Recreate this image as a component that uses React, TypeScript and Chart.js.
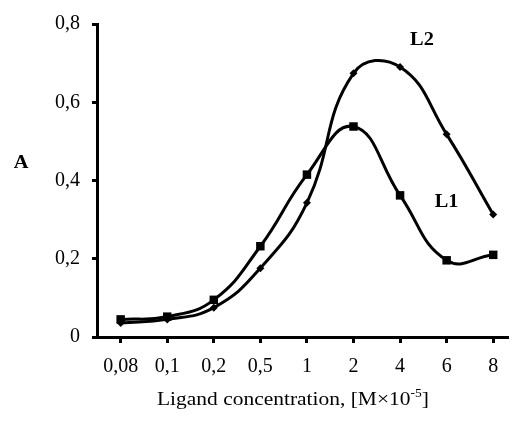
import React, { useEffect, useRef } from "react";
import { Chart, registerables } from "chart.js";

Chart.register(...registerables);

const categories = ["0,08", "0,1", "0,2", "0,5", "1", "2", "4", "6", "8"];
const seriesL1 = [0.045, 0.052, 0.095, 0.232, 0.415, 0.538, 0.362, 0.196, 0.21];
const seriesL2 = [0.036, 0.045, 0.075, 0.176, 0.343, 0.674, 0.69, 0.518, 0.313];
const yTicks = [0, 0.2, 0.4, 0.6, 0.8];
const yTickLabels = ["0", "0,2", "0,4", "0,6", "0,8"];
const xTitleMain = "Ligand concentration, [M×10";
const xTitleSup = "-5";
const xTitleEnd = "]";
const yTitle = "A";
const seriesNames = ["L1", "L2"];

const FONT = "'Liberation Serif', 'Times New Roman', serif";
const SX = 1.13;

function drawStretched(ctx: any, text: string, x: number, y: number, align: string) {
  const w = ctx.measureText(text).width * SX;
  let left = x;
  if (align === "center") left = x - w / 2;
  ctx.save();
  ctx.translate(left, y);
  ctx.scale(SX, 1);
  ctx.textAlign = "left";
  ctx.fillText(text, 0, 0);
  ctx.restore();
  return w;
}

const textPlugin = {
  id: "textPlugin",
  afterDraw(chart: any) {
    const { ctx, scales } = chart;
    const xs = scales.x;
    const ys = scales.y;
    ctx.save();
    ctx.fillStyle = "#000";
    ctx.textBaseline = "middle";
    ctx.font = `bold 18px ${FONT}`;
    drawStretched(ctx, yTitle, xs.getPixelForValue(-2.14), ys.getPixelForValue(0.443), "center");
    drawStretched(ctx, seriesNames[1], xs.getPixelForValue(6.47), ys.getPixelForValue(0.758), "center");
    drawStretched(ctx, seriesNames[0], xs.getPixelForValue(7.0), ys.getPixelForValue(0.345), "center");

    // x title with superscript
    const mainFont = `19px ${FONT}`;
    const supFont = `12px ${FONT}`;
    ctx.font = mainFont;
    const w1 = ctx.measureText(xTitleMain).width * SX;
    const w3 = ctx.measureText(xTitleEnd).width * SX;
    ctx.font = supFont;
    const w2 = ctx.measureText(xTitleSup).width * SX;
    const total = w1 + w2 + w3;
    const cx = xs.getPixelForValue(3.7);
    const by = ys.bottom + 68;
    let x = cx - total / 2;
    ctx.textBaseline = "alphabetic";
    ctx.font = mainFont;
    x += drawStretched(ctx, xTitleMain, x, by, "left");
    ctx.font = supFont;
    x += drawStretched(ctx, xTitleSup, x, by - 8, "left");
    ctx.font = mainFont;
    drawStretched(ctx, xTitleEnd, x, by, "left");
    ctx.restore();
  },
};

export default function App() {
  const ref = useRef<HTMLCanvasElement | null>(null);
  useEffect(() => {
    if (!ref.current) return;
    const chart = new Chart(ref.current, {
      type: "line",
      data: {
        datasets: [
          {
            label: seriesNames[0],
            data: seriesL1.map((v, i) => ({ x: i, y: v })),
            borderColor: "#000",
            backgroundColor: "#000",
            borderWidth: 3,
            pointStyle: "rect",
            pointRadius: 6,
            pointBorderWidth: 0,
            tension: 0.45,
            fill: false,
          },
          {
            label: seriesNames[1],
            data: seriesL2.map((v, i) => ({ x: i, y: v })),
            borderColor: "#000",
            backgroundColor: "#000",
            borderWidth: 3,
            pointStyle: "rectRot",
            pointRadius: 4,
            pointBorderWidth: 0,
            tension: 0.45,
            fill: false,
          },
        ],
      },
      options: {
        animation: false,
        responsive: false,
        events: [],
        layout: { padding: { top: 19, left: 0, right: 0, bottom: 0 } },
        plugins: { legend: { display: false }, tooltip: { enabled: false } },
        scales: {
          x: {
            type: "linear",
            min: -0.508,
            max: 8.296,
            afterFit(scale: any) {
              scale.height = 92;
            },
            afterBuildTicks(scale: any) {
              scale.ticks = categories.map((_, i) => ({ value: i }));
            },
            ticks: {
              autoSkip: false,
              maxRotation: 0,
              padding: 12,
              color: "#000",
              font: { family: FONT, size: 20 },
              callback: (v: any) => categories[v] ?? "",
            },
            grid: {
              drawOnChartArea: false,
              drawTicks: true,
              tickLength: 6,
              lineWidth: 3,
              color: "#000",
            },
            border: { display: true, color: "#000", width: 3 },
          },
          y: {
            type: "linear",
            min: 0,
            max: 0.8,
            afterFit(scale: any) {
              scale.width = 97;
            },
            afterBuildTicks(scale: any) {
              scale.ticks = yTicks.map((v) => ({ value: v }));
            },
            ticks: {
              padding: 12,
              color: "#000",
              font: { family: FONT, size: 20 },
              callback: (v: any) => {
                const idx = yTicks.findIndex((t) => Math.abs(t - v) < 1e-9);
                return idx >= 0 ? yTickLabels[idx] : "";
              },
            },
            grid: {
              drawOnChartArea: false,
              drawTicks: true,
              tickLength: 5,
              lineWidth: 3,
              color: "#000",
            },
            border: { display: true, color: "#000", width: 3 },
          },
        },
      },
      plugins: [textPlugin],
    });
    return () => chart.destroy();
  }, []);
  return (
    <div style={{ position: "fixed", left: 0, top: 0, width: 513, height: 429, background: "#fff" }}>
      <canvas ref={ref} width={513} height={429} style={{ display: "block" }} />
    </div>
  );
}
